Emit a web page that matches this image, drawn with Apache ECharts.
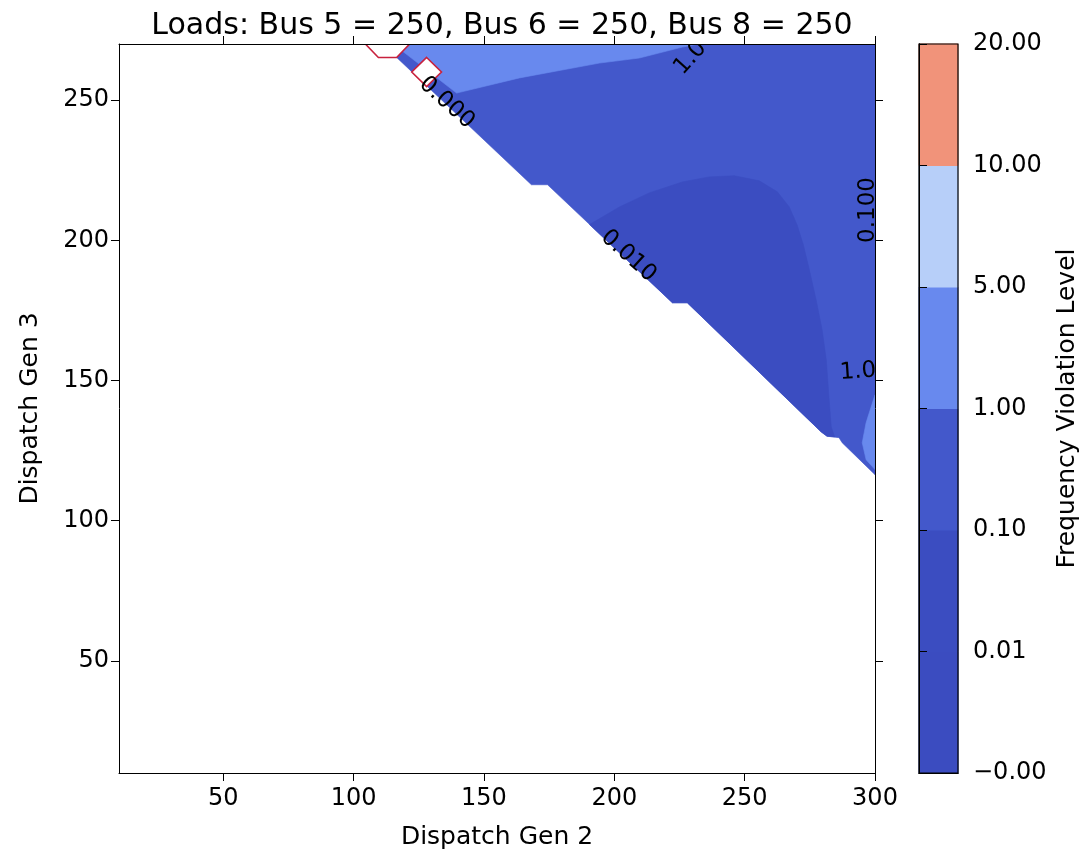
<!DOCTYPE html>
<html>
<head>
<meta charset="utf-8">
<script src="https://cdn.jsdelivr.net/npm/echarts@6/dist/echarts.min.js"></script>
<style>
html,body{margin:0;padding:0;background:#fff;}
#c{width:1084px;height:855px;}
</style>
</head>
<body>
<div id="c"></div>
<script>
// ---------- data ----------
const titleText = 'Loads: Bus 5 = 250, Bus 6 = 250, Bus 8 = 250';
const xTicks = [50, 100, 150, 200, 250, 300];
const yTicks = [50, 100, 150, 200, 250];
const levels = [-0, 0.01, 0.1, 1, 5, 10, 20];
const levelLabels = ['\u22120.00', '0.01', '0.10', '1.00', '5.00', '10.00', '20.00'];
const bandColors = ['#3b4cc0', '#3b4dc1', '#4358cb', '#6889ee', '#b7cff9', '#f1937a'];

// contour regions, vertices as [Dispatch Gen 2, Dispatch Gen 3]
const regionBand01to1 = [[121.5,270],[300,270],[300,116.4],[287.4,127.8],[286.2,129.6],[281.6,130.1],[279.3,131.7],[228,177.7],[222.3,177.7],[174.4,219.8],[168.2,219.8],[116.5,265.2]];
const regionBand001to01 = [[190.5,205.6],[202.0,211.9],[213.4,216.9],[226.1,220.8],[236.4,222.6],[246.0,223.0],[255.6,221.2],[262.5,217.3],[267.1,211.9],[270.1,205.5],[272.5,198.4],[274.8,189.5],[277.4,178.8],[279.7,168.1],[281.3,157.4],[282.4,143.1],[283.2,133.5],[284.5,129.9],[281.6,130.1],[279.3,131.7],[228,177.7],[222.3,177.7]];
const regionBand1to5Top = [[121.5,270],[232.6,270],[226.1,268.9],[209.6,265.0],[194.3,263.2],[163.6,257.9],[139.5,252.5],[118.8,267.4]];
const regionBand1to5Right = [[300,144.9],[296.6,135],[295.1,127.8],[296.6,121.7],[300,118.2]];
const holeHex = [[104.5,270],[109.5,265.2],[116.5,265.2],[121.5,270],[116.5,274.8],[109.5,274.8]];
const holeDiamond = [[128,265.2],[133.7,260],[128,254.8],[122.3,260]];
// contour labels: [text, Gen 2, Gen 3, angle deg]
const contourLabels = [
  ['0.000', 135.7, 249.0, -42],
  ['0.010', 205.4, 194.4, -42],
  ['1.0', 229.2, 265.0, 48],
  ['0.100', 297.4, 210.8, 90],
  ['1.0', 293.5, 153.1, 4]
];

// ---------- chart ----------
const FONT = 'DejaVu Sans';
const regions = [
  { pts: regionBand01to1, band: 2 },
  { pts: regionBand001to01, band: 1 },
  { pts: regionBand1to5Top, band: 3 },
  { pts: regionBand1to5Right, band: 3 }
];
const holes = [holeHex, holeDiamond];

const blackLine = { show: true, lineStyle: { color: '#000', width: 1 } };
const noSplit = { show: false };

function mainAxisX(pos, withLabels) {
  return {
    type: 'value', gridIndex: 0, position: pos, min: 10, max: 300, z: 10,
    axisLine: blackLine,
    axisTick: { show: true, inside: false, length: 8, customValues: xTicks, lineStyle: { color: '#000' } },
    axisLabel: withLabels ? { show: true, customValues: xTicks, color: '#000', fontSize: 24, fontFamily: FONT, margin: 14 } : { show: false },
    splitLine: noSplit,
    name: withLabels ? 'Dispatch Gen 2' : '',
    nameLocation: 'middle', nameGap: 52,
    nameTextStyle: { color: '#000', fontSize: 25, fontFamily: FONT }
  };
}
function mainAxisY(pos, withLabels) {
  return {
    type: 'value', gridIndex: 0, position: pos, min: 10, max: 270, z: 10,
    axisLine: blackLine,
    axisTick: { show: true, inside: false, length: 8, customValues: yTicks, lineStyle: { color: '#000' } },
    axisLabel: withLabels ? { show: true, customValues: yTicks, color: '#000', fontSize: 24, fontFamily: FONT, margin: 10 } : { show: false },
    splitLine: noSplit,
    name: withLabels ? 'Dispatch Gen 3' : '',
    nameLocation: 'middle', nameGap: 76, nameRotate: 90,
    nameTextStyle: { color: '#000', fontSize: 25, fontFamily: FONT }
  };
}

const option = {
  animation: false,
  backgroundColor: '#fff',
  title: {
    text: titleText, left: 497, top: 6, textAlign: 'center',
    textStyle: { color: '#000', fontSize: 30, fontWeight: 'normal', fontFamily: FONT }
  },
  grid: [
    { left: 119, top: 44, width: 756, height: 729, outerBoundsMode: 'none', containLabel: false },
    { left: 919, top: 44, width: 39, height: 729, outerBoundsMode: 'none', containLabel: false }
  ],
  xAxis: [
    mainAxisX('bottom', true),
    mainAxisX('top', false),
    { type: 'value', gridIndex: 1, position: 'bottom', min: 0, max: 1, z: 10, axisLine: blackLine, axisTick: { show: false }, axisLabel: { show: false }, splitLine: noSplit },
    { type: 'value', gridIndex: 1, position: 'top', min: 0, max: 1, z: 10, axisLine: blackLine, axisTick: { show: false }, axisLabel: { show: false }, splitLine: noSplit }
  ],
  yAxis: [
    mainAxisY('left', true),
    mainAxisY('right', false),
    {
      type: 'value', gridIndex: 1, position: 'right', min: 0, max: levels.length - 1, interval: 1, z: 10,
      axisLine: blackLine,
      axisTick: { show: true, inside: false, length: 8, lineStyle: { color: '#000' } },
      axisLabel: { show: true, color: '#000', fontSize: 24, fontFamily: FONT, margin: 15, showMinLabel: true, showMaxLabel: true,
        formatter: v => levelLabels[Math.round(v)] },
      splitLine: noSplit,
      name: 'Frequency Violation Level', nameLocation: 'middle', nameGap: 97, nameRotate: 90,
      nameTextStyle: { color: '#000', fontSize: 25, fontFamily: FONT }
    },
    { type: 'value', gridIndex: 1, position: 'left', min: 0, max: levels.length - 1, z: 10, axisLine: blackLine, axisTick: { show: false }, axisLabel: { show: false }, splitLine: noSplit }
  ],
  series: [
    {
      type: 'custom', xAxisIndex: 0, yAxisIndex: 0, clip: true, z: 2,
      data: regions.map(r => r.pts[0]),
      renderItem: (params, api) => {
        const r = regions[params.dataIndex];
        const c = bandColors[r.band];
        return { type: 'polygon', shape: { points: r.pts.map(p => api.coord(p)) }, style: { fill: c, stroke: c, lineWidth: 0.6 } };
      }
    },
    {
      type: 'custom', xAxisIndex: 0, yAxisIndex: 0, clip: true, z: 3,
      data: holes.map(h => h[0]),
      renderItem: (params, api) => {
        const h = holes[params.dataIndex];
        return { type: 'polygon', shape: { points: h.map(p => api.coord(p)) }, style: { fill: '#fff', stroke: '#c8213d', lineWidth: 1.6 } };
      }
    },
    {
      type: 'custom', xAxisIndex: 0, yAxisIndex: 0, clip: true, z: 4,
      data: contourLabels.map(l => [l[1], l[2]]),
      renderItem: (params, api) => {
        const l = contourLabels[params.dataIndex];
        const p = api.coord([l[1], l[2]]);
        return {
          type: 'text', x: p[0], y: p[1], rotation: l[3] * Math.PI / 180,
          style: { text: l[0], fill: '#000', fontSize: 23, fontFamily: FONT, align: 'center', verticalAlign: 'middle' }
        };
      }
    },
    {
      type: 'custom', xAxisIndex: 2, yAxisIndex: 2, clip: false, z: 2,
      data: bandColors.map((c, i) => [0, i]),
      renderItem: (params, api) => {
        const i = params.dataIndex;
        const a = api.coord([0, i + 1]);
        const b = api.coord([1, i]);
        return { type: 'rect', shape: { x: a[0], y: a[1], width: b[0] - a[0], height: b[1] - a[1] }, style: { fill: bandColors[i], stroke: bandColors[i], lineWidth: 1 } };
      }
    },
    {
      type: 'custom', xAxisIndex: 2, yAxisIndex: 2, clip: false, z: 5,
      data: [[0, 0]],
      renderItem: (params, api) => {
        const a = api.coord([0, levels.length - 1]);
        const b = api.coord([1, 0]);
        return { type: 'rect', shape: { x: a[0], y: a[1], width: b[0] - a[0], height: b[1] - a[1] }, style: { fill: 'none', stroke: '#000', lineWidth: 1.2 } };
      }
    }
  ]
};
const chart = echarts.init(document.getElementById('c'));
chart.setOption(option);
</script>
</body>
</html>
